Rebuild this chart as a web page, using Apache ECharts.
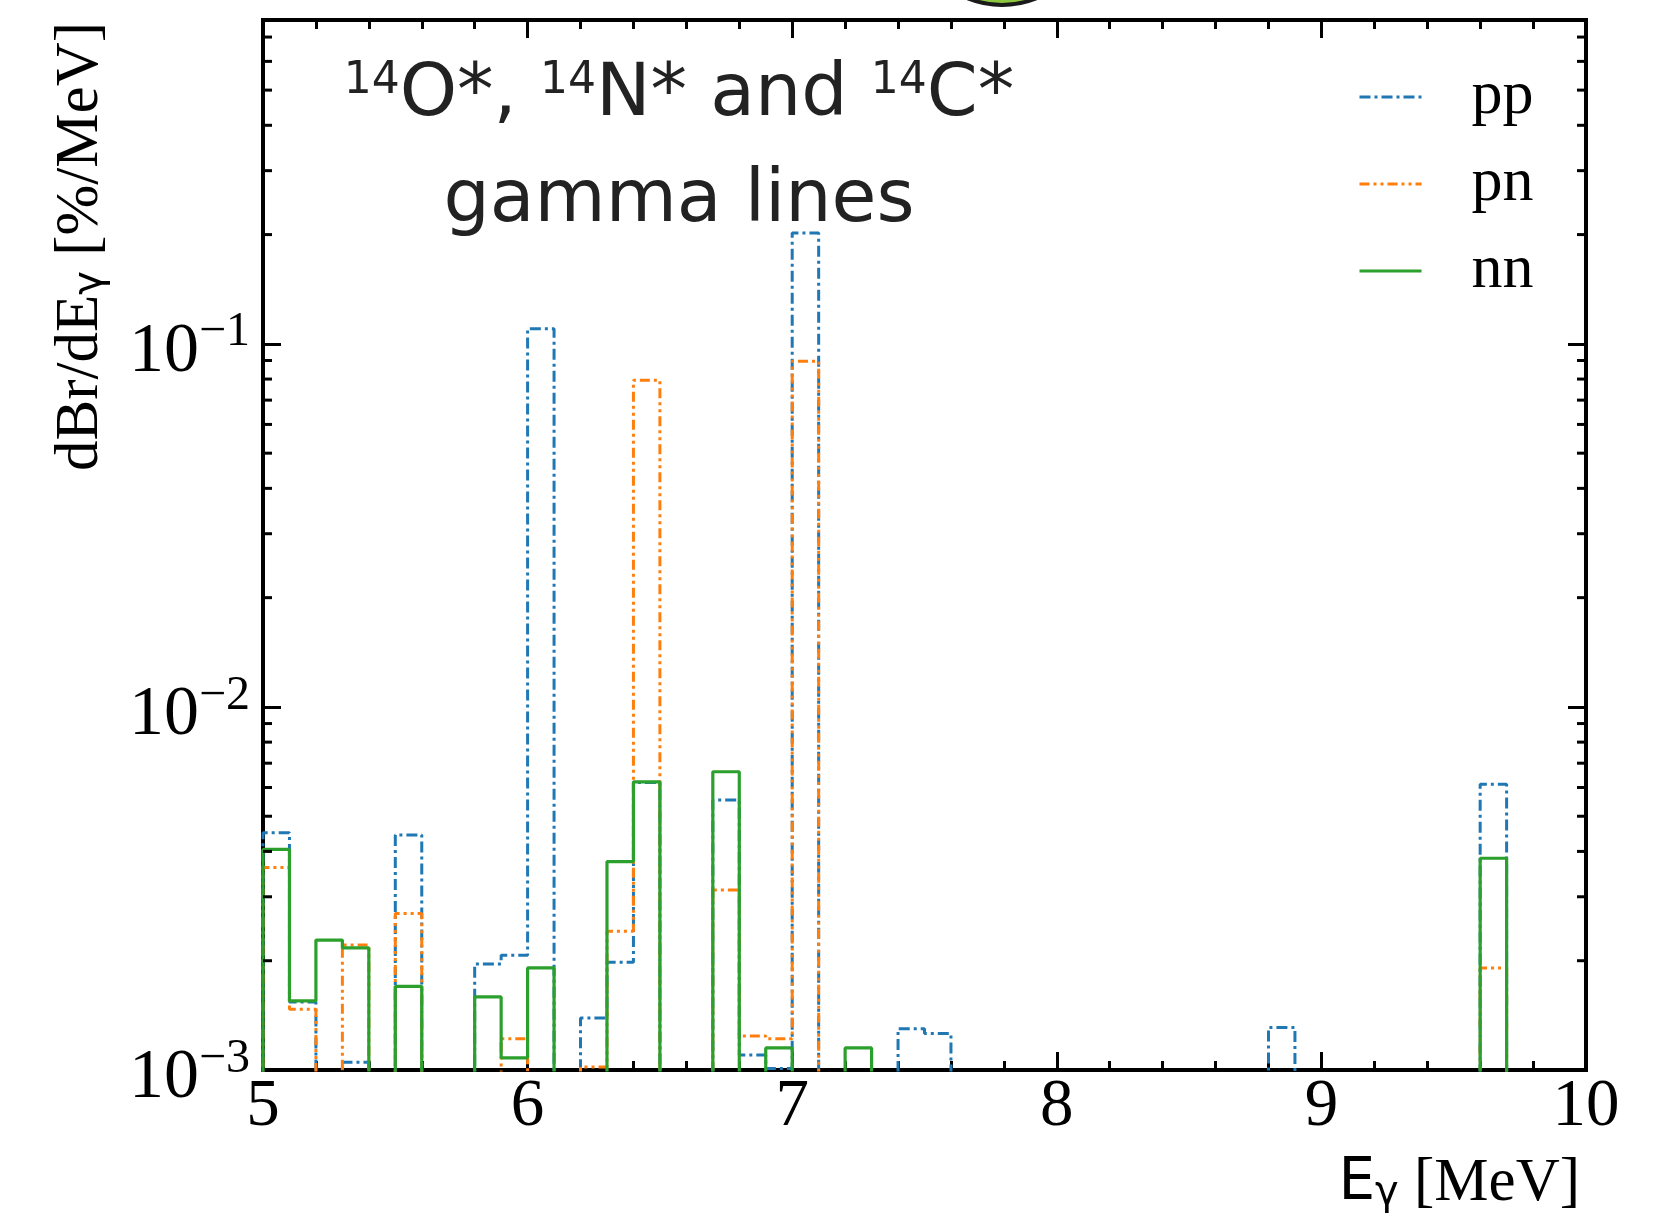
<!DOCTYPE html>
<html>
<head>
<meta charset="utf-8">
<script src="https://cdn.jsdelivr.net/npm/echarts@6/dist/echarts.min.js"></script>
<style>
  html, body { margin: 0; padding: 0; background: #ffffff; }
  #chart { width: 1670px; height: 1219px; }
</style>
</head>
<body>
<div id="chart"></div>
<script>
// Histogram binning (MeV): 50 bins of 0.1 MeV from 5.0 to 10.0
const binStart = 5.0;
const binWidth = 0.1;

// dBr/dE_gamma per bin [%/MeV]; 0 = empty bin
const ppValues = [
  0.0045, 0.00154, 0, 0.00105, 0, 0.00444, 0, 0, 0.00196, 0.00207,
  0.110, 0, 0.00139, 0.00198, 0.00619, 0, 0, 0.00554, 0.0011, 0.00101,
  0.202, 0, 0, 0, 0.0013, 0.00126, 0, 0, 0, 0,
  0, 0, 0, 0, 0, 0, 0, 0, 0.00131, 0,
  0, 0, 0, 0, 0, 0, 0.00612, 0, 0, 0
];
const pnValues = [
  0.00361, 0.00147, 0, 0.00221, 0, 0.0027, 0, 0, 0, 0.00122,
  0, 0, 0.00102, 0.00241, 0.0794, 0, 0, 0.00313, 0.00124, 0.00122,
  0.0895, 0, 0, 0, 0, 0, 0, 0, 0, 0,
  0, 0, 0, 0, 0, 0, 0, 0, 0, 0,
  0, 0, 0, 0, 0, 0, 0.00191, 0, 0, 0
];
const nnValues = [
  0.00405, 0.00155, 0.00228, 0.00217, 0, 0.0017, 0, 0, 0.00159, 0.00108,
  0.00191, 0, 0, 0.00375, 0.00622, 0, 0, 0.00663, 0, 0.00115,
  0, 0, 0.00115, 0, 0, 0, 0, 0, 0, 0,
  0, 0, 0, 0, 0, 0, 0, 0, 0, 0,
  0, 0, 0, 0, 0, 0, 0.00383, 0, 0, 0
];

// Axis ticks
const xTickLabels = ['5', '6', '7', '8', '9', '10'];
const xMin = 5, xMax = 10;
const yMin = 0.001, yMax = 0.78;
const yDecadeExponents = [-3, -2, -1];
const minorMantissas = [2, 3, 4, 5, 6, 7, 8, 9];

// Empty bins sit below the log axis so their outline drops out of the frame
const EMPTY_FLOOR = 1e-6;

// Outline of a step histogram: two corner points per bin
function stepOutline(values) {
  const pts = [[binStart, EMPTY_FLOOR]];
  values.forEach((v, i) => {
    const lo = +(binStart + i * binWidth).toFixed(3);
    const hi = +(binStart + (i + 1) * binWidth).toFixed(3);
    const y = v > 0 ? v : EMPTY_FLOOR;
    pts.push([lo, y], [hi, y]);
  });
  pts.push([+(binStart + values.length * binWidth).toFixed(3), EMPTY_FLOOR]);
  return pts;
}

// Minor log ticks (2..9 x 10^k) inside the axis range
const yMinorTickValues = [];
yDecadeExponents.forEach(k => {
  minorMantissas.forEach(m => {
    const v = m * Math.pow(10, k);
    if (v < yMax) yMinorTickValues.push(v);
  });
});

const SERIF = 'Liberation Serif';
const SANS = 'DejaVu Sans';
const BLACK = '#000000';

const tickLine = { color: BLACK, width: 3 };

function xAxisBase(position, showLabels) {
  return {
    type: 'value',
    position: position,
    min: xMin,
    max: xMax,
    interval: 1,
    axisLine: { show: false },
    splitLine: { show: false },
    axisTick: { show: true, inside: true, length: 18, lineStyle: tickLine },
    minorTick: { show: true, splitNumber: 5, length: 9, lineStyle: tickLine },
    axisLabel: {
      show: showLabels,
      margin: 4,
      fontFamily: SERIF,
      fontSize: 67,
      lineHeight: 67,
      color: BLACK,
      formatter: v => {
        const idx = Math.round(v - xMin);
        return Math.abs(v - xMin - idx) < 1e-6 ? (xTickLabels[idx] || '') : '';
      }
    }
  };
}

function yAxisBase(position, showLabels) {
  return {
    type: 'log',
    logBase: 10,
    position: position,
    min: yMin,
    max: yMax,
    axisLine: { show: false },
    splitLine: { show: false },
    axisTick: { show: true, inside: true, length: 18, lineStyle: tickLine },
    minorTick: { show: false },
    axisLabel: {
      show: showLabels,
      margin: 13,
      color: BLACK,
      formatter: v => {
        const e = Math.log10(v);
        const k = Math.round(e);
        if (Math.abs(e - k) > 1e-6 || yDecadeExponents.indexOf(k) < 0) return '';
        return '{b|10}{s|\u2212' + (-k) + '}';
      },
      rich: {
        b: { fontFamily: SERIF, fontSize: 70, lineHeight: 70, color: BLACK, padding: [26, 0, 9, 0] },
        s: { fontFamily: SERIF, fontSize: 48, lineHeight: 48, color: BLACK, verticalAlign: 'top' }
      }
    }
  };
}

const xBottom = xAxisBase('bottom', true);
xBottom.name = '{e|E}{g|\u03b3}{u| [MeV]}';
xBottom.nameLocation = 'end';
xBottom.nameGap = -6;
xBottom.nameMoveOverlap = false;
xBottom.nameTextStyle = {
  align: 'right',
  verticalAlign: 'top',
  padding: [84, 0, 0, 0],
  rich: {
    e: { fontFamily: SANS, fontSize: 58, lineHeight: 60, color: BLACK },
    g: { fontFamily: SANS, fontSize: 40, lineHeight: 34, color: BLACK, verticalAlign: 'bottom' },
    u: { fontFamily: SERIF, fontSize: 61, lineHeight: 60, color: BLACK }
  }
};

const yLeft = yAxisBase('left', true);
yLeft.name = '{a|dBr/dE}{g|\u03b3}{a| [%/MeV]}';
yLeft.nameLocation = 'end';
yLeft.nameRotate = 90;
yLeft.nameGap = -2;
yLeft.nameMoveOverlap = false;
yLeft.nameTextStyle = {
  align: 'right',
  verticalAlign: 'bottom',
  padding: [0, 0, 152, 0],
  rich: {
    a: { fontFamily: SERIF, fontSize: 61, lineHeight: 61, color: BLACK },
    g: { fontFamily: SANS, fontSize: 40, lineHeight: 34, color: BLACK, verticalAlign: 'bottom' }
  }
};

const titleRich = {
  m: { fontFamily: SANS, fontSize: 73, lineHeight: 73, fontWeight: 'normal', color: '#222222' },
  sup: { fontFamily: SANS, fontSize: 44, lineHeight: 44, fontWeight: 'normal', color: '#222222', verticalAlign: 'top' }
};

const chart = echarts.init(document.getElementById('chart'), null, { renderer: 'canvas' });

chart.setOption({
  animation: false,
  backgroundColor: '#ffffff',
  grid: {
    left: 263, right: 84, top: 20, bottom: 149,
    show: true, borderColor: BLACK, borderWidth: 4, backgroundColor: 'transparent',
    outerBoundsMode: 'none'
  },
  title: [
    {
      text: '{sup|14}{m|O*, }{sup|14}{m|N* and }{sup|14}{m|C*}',
      left: 679, top: 60, padding: 0, textAlign: 'center',
      textStyle: { fontWeight: 'normal', rich: titleRich }
    },
    {
      text: 'gamma lines',
      left: 679, top: 166, padding: 0, textAlign: 'center',
      textStyle: { fontFamily: SANS, fontSize: 73, lineHeight: 73, fontWeight: 'normal', color: '#222222' }
    }
  ],
  legend: {
    data: ['pp', 'pn', 'nn'],
    orient: 'vertical',
    left: 1358, top: 66, padding: 0,
    itemWidth: 62, itemHeight: 1, itemGap: 25,
    selectedMode: false,
    itemStyle: { opacity: 0, borderWidth: 0 },
    lineStyle: { width: 3 },
    textStyle: { fontFamily: SERIF, fontSize: 62, lineHeight: 62, color: BLACK, padding: [0, 0, 0, 45] }
  },
  graphic: [
    {
      type: 'circle',
      shape: { cx: 1002, cy: -86, r: 91 },
      style: { fill: '#8cc63f', stroke: '#1a1a1a', lineWidth: 4 },
      silent: true, z: 10
    }
  ],
  xAxis: [xBottom, xAxisBase('top', false)],
  yAxis: [yLeft, yAxisBase('right', false)],
  series: [
    {
      name: 'pp', type: 'line', xAxisIndex: 0, yAxisIndex: 0,
      data: stepOutline(ppValues), symbol: 'none', clip: true,
      lineStyle: { color: '#1f77b4', width: 3, type: [11, 4, 3, 4] },
      itemStyle: { color: '#1f77b4' }
    },
    {
      name: 'pn', type: 'line', xAxisIndex: 0, yAxisIndex: 0,
      data: stepOutline(pnValues), symbol: 'none', clip: true,
      lineStyle: { color: '#ff7f0e', width: 3, type: [10, 4, 3, 4, 3, 4] },
      itemStyle: { color: '#ff7f0e' }
    },
    {
      name: 'nn', type: 'line', xAxisIndex: 0, yAxisIndex: 0,
      data: stepOutline(nnValues), symbol: 'none', clip: true,
      lineStyle: { color: '#2ca02c', width: 3.2, type: 'solid' },
      itemStyle: { color: '#2ca02c' }
    },
    {
      // minor log ticks on the left and right frame edges
      type: 'custom', xAxisIndex: 0, yAxisIndex: 0, silent: true, z: 4,
      data: yMinorTickValues.map(v => [binStart, v]),
      renderItem: (params, api) => {
        const y = api.coord([api.value(0), api.value(1)])[1];
        const cs = params.coordSys;
        return {
          type: 'group',
          children: [
            { type: 'line', shape: { x1: cs.x, y1: y, x2: cs.x + 9, y2: y }, style: { stroke: BLACK, lineWidth: 3 } },
            { type: 'line', shape: { x1: cs.x + cs.width - 9, y1: y, x2: cs.x + cs.width, y2: y }, style: { stroke: BLACK, lineWidth: 3 } }
          ]
        };
      }
    }
  ]
});
</script>
</body>
</html>
